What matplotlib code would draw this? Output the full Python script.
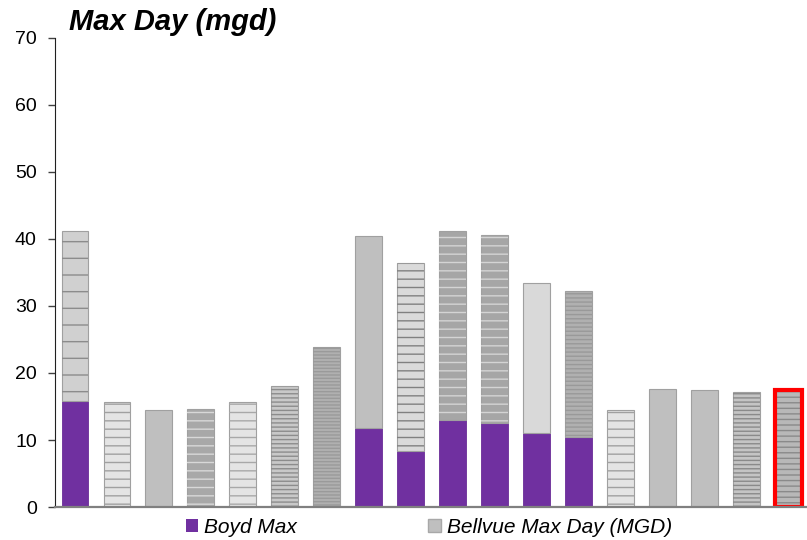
import matplotlib.pyplot as plt
import matplotlib as mpl
import numpy as np
from matplotlib.patches import Patch

plt.rcParams['font.family'] = ['Liberation Sans', 'DejaVu Sans']

# values (mgd)
boyd_max = [15.8, 0, 0, 0, 0, 0, 0, 11.8, 8.4, 13.0, 12.5, 11.0, 10.4, 0, 0, 0, 0, 0]
bar_total = [41.2, 15.7, 14.5, 14.6, 15.7, 18.1, 23.9, 40.4, 36.4, 41.2, 40.6, 33.4, 32.2,
             14.5, 17.6, 17.5, 17.2, 17.4]
bellvue = [t - b for t, b in zip(bar_total, boyd_max)]

# fill, hatch line colour, hatch pattern for each grey segment
fills = ['#d0d0d0', '#e4e4e4', '#bfbfbf', '#a8a8a8', '#e4e4e4', '#c8c8c8', '#b0b0b0',
         '#bfbfbf', '#dadada', '#a6a6a6', '#a6a6a6', '#d9d9d9', '#b0b0b0',
         '#e4e4e4', '#bfbfbf', '#bfbfbf', '#c4c4c4', '#b8b8b8']
hcols = ['#8c8c8c', '#a0a0a0', None, '#d8d8d8', '#a8a8a8', '#8c8c8c', '#9a9a9a',
         None, '#808080', '#d4d4d4', '#d4d4d4', None, '#999999',
         '#a0a0a0', None, None, '#8a8a8a', '#8a8a8a']
hatches = ['-', '--', '', '--', '--', '----', '-----', '', '--', '--', '--', '', '----',
           '--', '', '', '----', '---']

x = np.arange(len(bar_total))
w = 0.64

fig = plt.figure(figsize=(8.07, 5.40), dpi=100)
ax = fig.add_axes([0.068, 0.061, 0.932, 0.869])

ax.bar(x, boyd_max, w, color='#7030A0', edgecolor='#6a2c98', linewidth=0.6)
ax.bar(x, bellvue, w, bottom=boyd_max, color=fills, edgecolor='#a0a0a0', linewidth=0.8)
mpl.rcParams['hatch.linewidth'] = 1.0
for i in range(len(x)):
    if hatches[i]:
        ax.bar(x[i], bellvue[i], w, bottom=boyd_max[i], fill=False, edgecolor=hcols[i],
               linewidth=0, hatch=hatches[i])

# highlighted last bar
ax.bar(x[-1], bar_total[-1], w, fill=False, edgecolor='#ff0000', linewidth=3)

ax.set_xlim(-0.48, 17.45)
ax.set_ylim(0, 70)
ax.set_yticks(range(0, 71, 10))
ax.set_xticks([])
ax.tick_params(axis='y', labelsize=14, length=5, width=1, color='#404040', pad=8)
ax.spines['top'].set_visible(False)
ax.spines['right'].set_visible(False)
ax.spines['left'].set_color('#202020')
ax.spines['bottom'].set_color('#808080')
ax.spines['bottom'].set_linewidth(1.6)

fig.text(0.086, 0.96, 'Max Day (mgd)', fontsize=21, fontweight='bold', fontstyle='italic',
         va='center', ha='left')

handles = [Patch(facecolor='#7030A0', edgecolor='none', label='Boyd Max'),
           Patch(facecolor='#bfbfbf', edgecolor='#a8a8a8', label='Bellvue Max Day (MGD)')]
leg = fig.legend(handles=handles, loc='center left', bbox_to_anchor=(0.23, 0.024), ncol=2,
                 frameon=False, handlelength=0.6, handleheight=0.6, handletextpad=0.3,
                 columnspacing=6.3, borderpad=0, borderaxespad=0,
                 prop={'size': 15, 'style': 'italic'})

fig.savefig('out.png', dpi=100)
